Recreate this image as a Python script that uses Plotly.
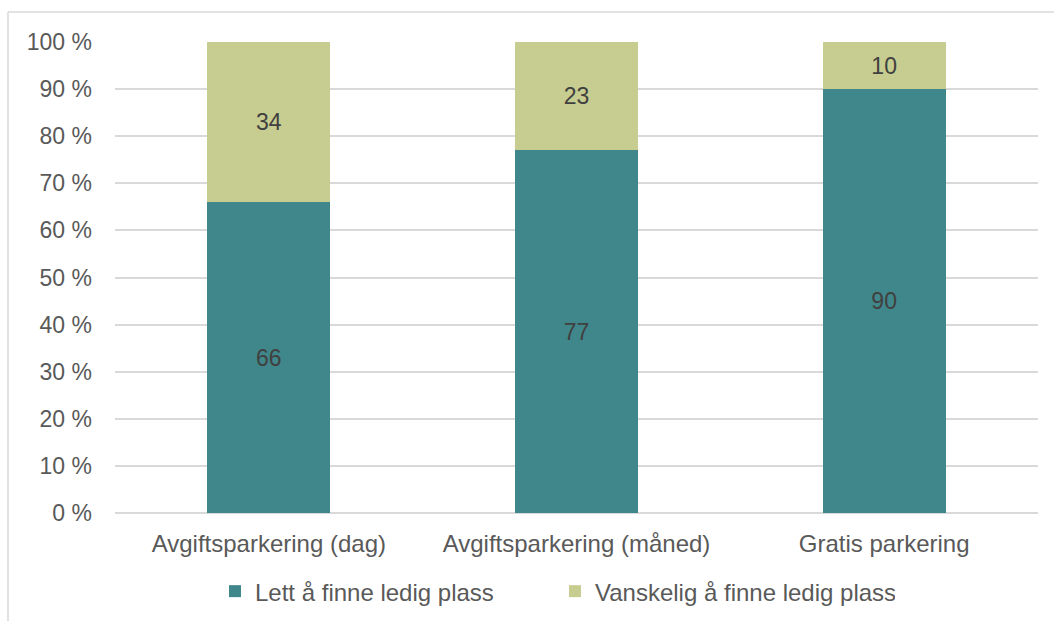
import plotly.graph_objects as go

categories = ["Avgiftsparkering (dag)", "Avgiftsparkering (måned)", "Gratis parkering"]
lett = [66, 77, 90]
vanskelig = [34, 23, 10]
series_names = ["Lett å finne ledig plass", "Vanskelig å finne ledig plass"]
y_ticks = [0, 10, 20, 30, 40, 50, 60, 70, 80, 90, 100]
y_tick_labels = [f"{v} %" for v in y_ticks]

W, H = 1054, 621
L, R, T, B = 115, 16, 42, 108
pw, ph = W - L - R, H - T - B

font = "Liberation Sans, Arial, sans-serif"
txt = "#595959"
fs = 23
fs_big = 24

fig = go.Figure()
fig.add_bar(x=categories, y=lett, name=series_names[0], marker_color="#40878b",
            marker_line_width=0,
            text=lett, textposition="inside", insidetextanchor="middle",
            textfont=dict(color="#404040", size=fs, family=font))
fig.add_bar(x=categories, y=vanskelig, name=series_names[1], marker_color="#c7cd90",
            marker_line_width=0,
            text=vanskelig, textposition="inside", insidetextanchor="middle",
            textfont=dict(color="#404040", size=fs, family=font))

# outer frame lines (top and left edges of the chart box)
fx0 = (8 - L) / pw
fx1 = (W - L) / pw
fy_top = 1 + (T - 12) / ph
fy_bot = -B / ph - 0.01
fig.add_shape(type="line", xref="paper", yref="paper", x0=fx0, x1=fx1, y0=fy_top, y1=fy_top,
              line=dict(color="#d9d9d9", width=1.5))
fig.add_shape(type="line", xref="paper", yref="paper", x0=fx0, x1=fx0, y0=fy_top, y1=fy_bot,
              line=dict(color="#d9d9d9", width=1.5))

fig.update_layout(
    width=W, height=H,
    margin=dict(l=L, r=R, t=T, b=B, autoexpand=False),
    barmode="stack", bargap=0.6,
    plot_bgcolor="white", paper_bgcolor="white",
    font=dict(family=font, color=txt, size=fs),
    showlegend=True,
    legend=dict(orientation="h", x=(215 - L) / pw, xanchor="left", y=-0.119, yanchor="top",
                font=dict(size=fs_big, color=txt), itemwidth=30, entrywidth=295,
                traceorder="normal"),
    uniformtext=dict(mode="show", minsize=10),
)
fig.update_xaxes(showline=False, ticks="", ticklabelstandoff=14, automargin=False,
                 tickfont=dict(size=fs_big, color=txt))
fig.update_yaxes(range=[0, 100], tickmode="array", tickvals=y_ticks, ticktext=y_tick_labels,
                 showgrid=True, gridcolor="#d9d9d9", gridwidth=1.5, automargin=False,
                 zeroline=True, zerolinecolor="#d9d9d9", zerolinewidth=1.5,
                 ticklabelstandoff=22, tickfont=dict(size=fs, color=txt))

fig.write_html("out.html")
